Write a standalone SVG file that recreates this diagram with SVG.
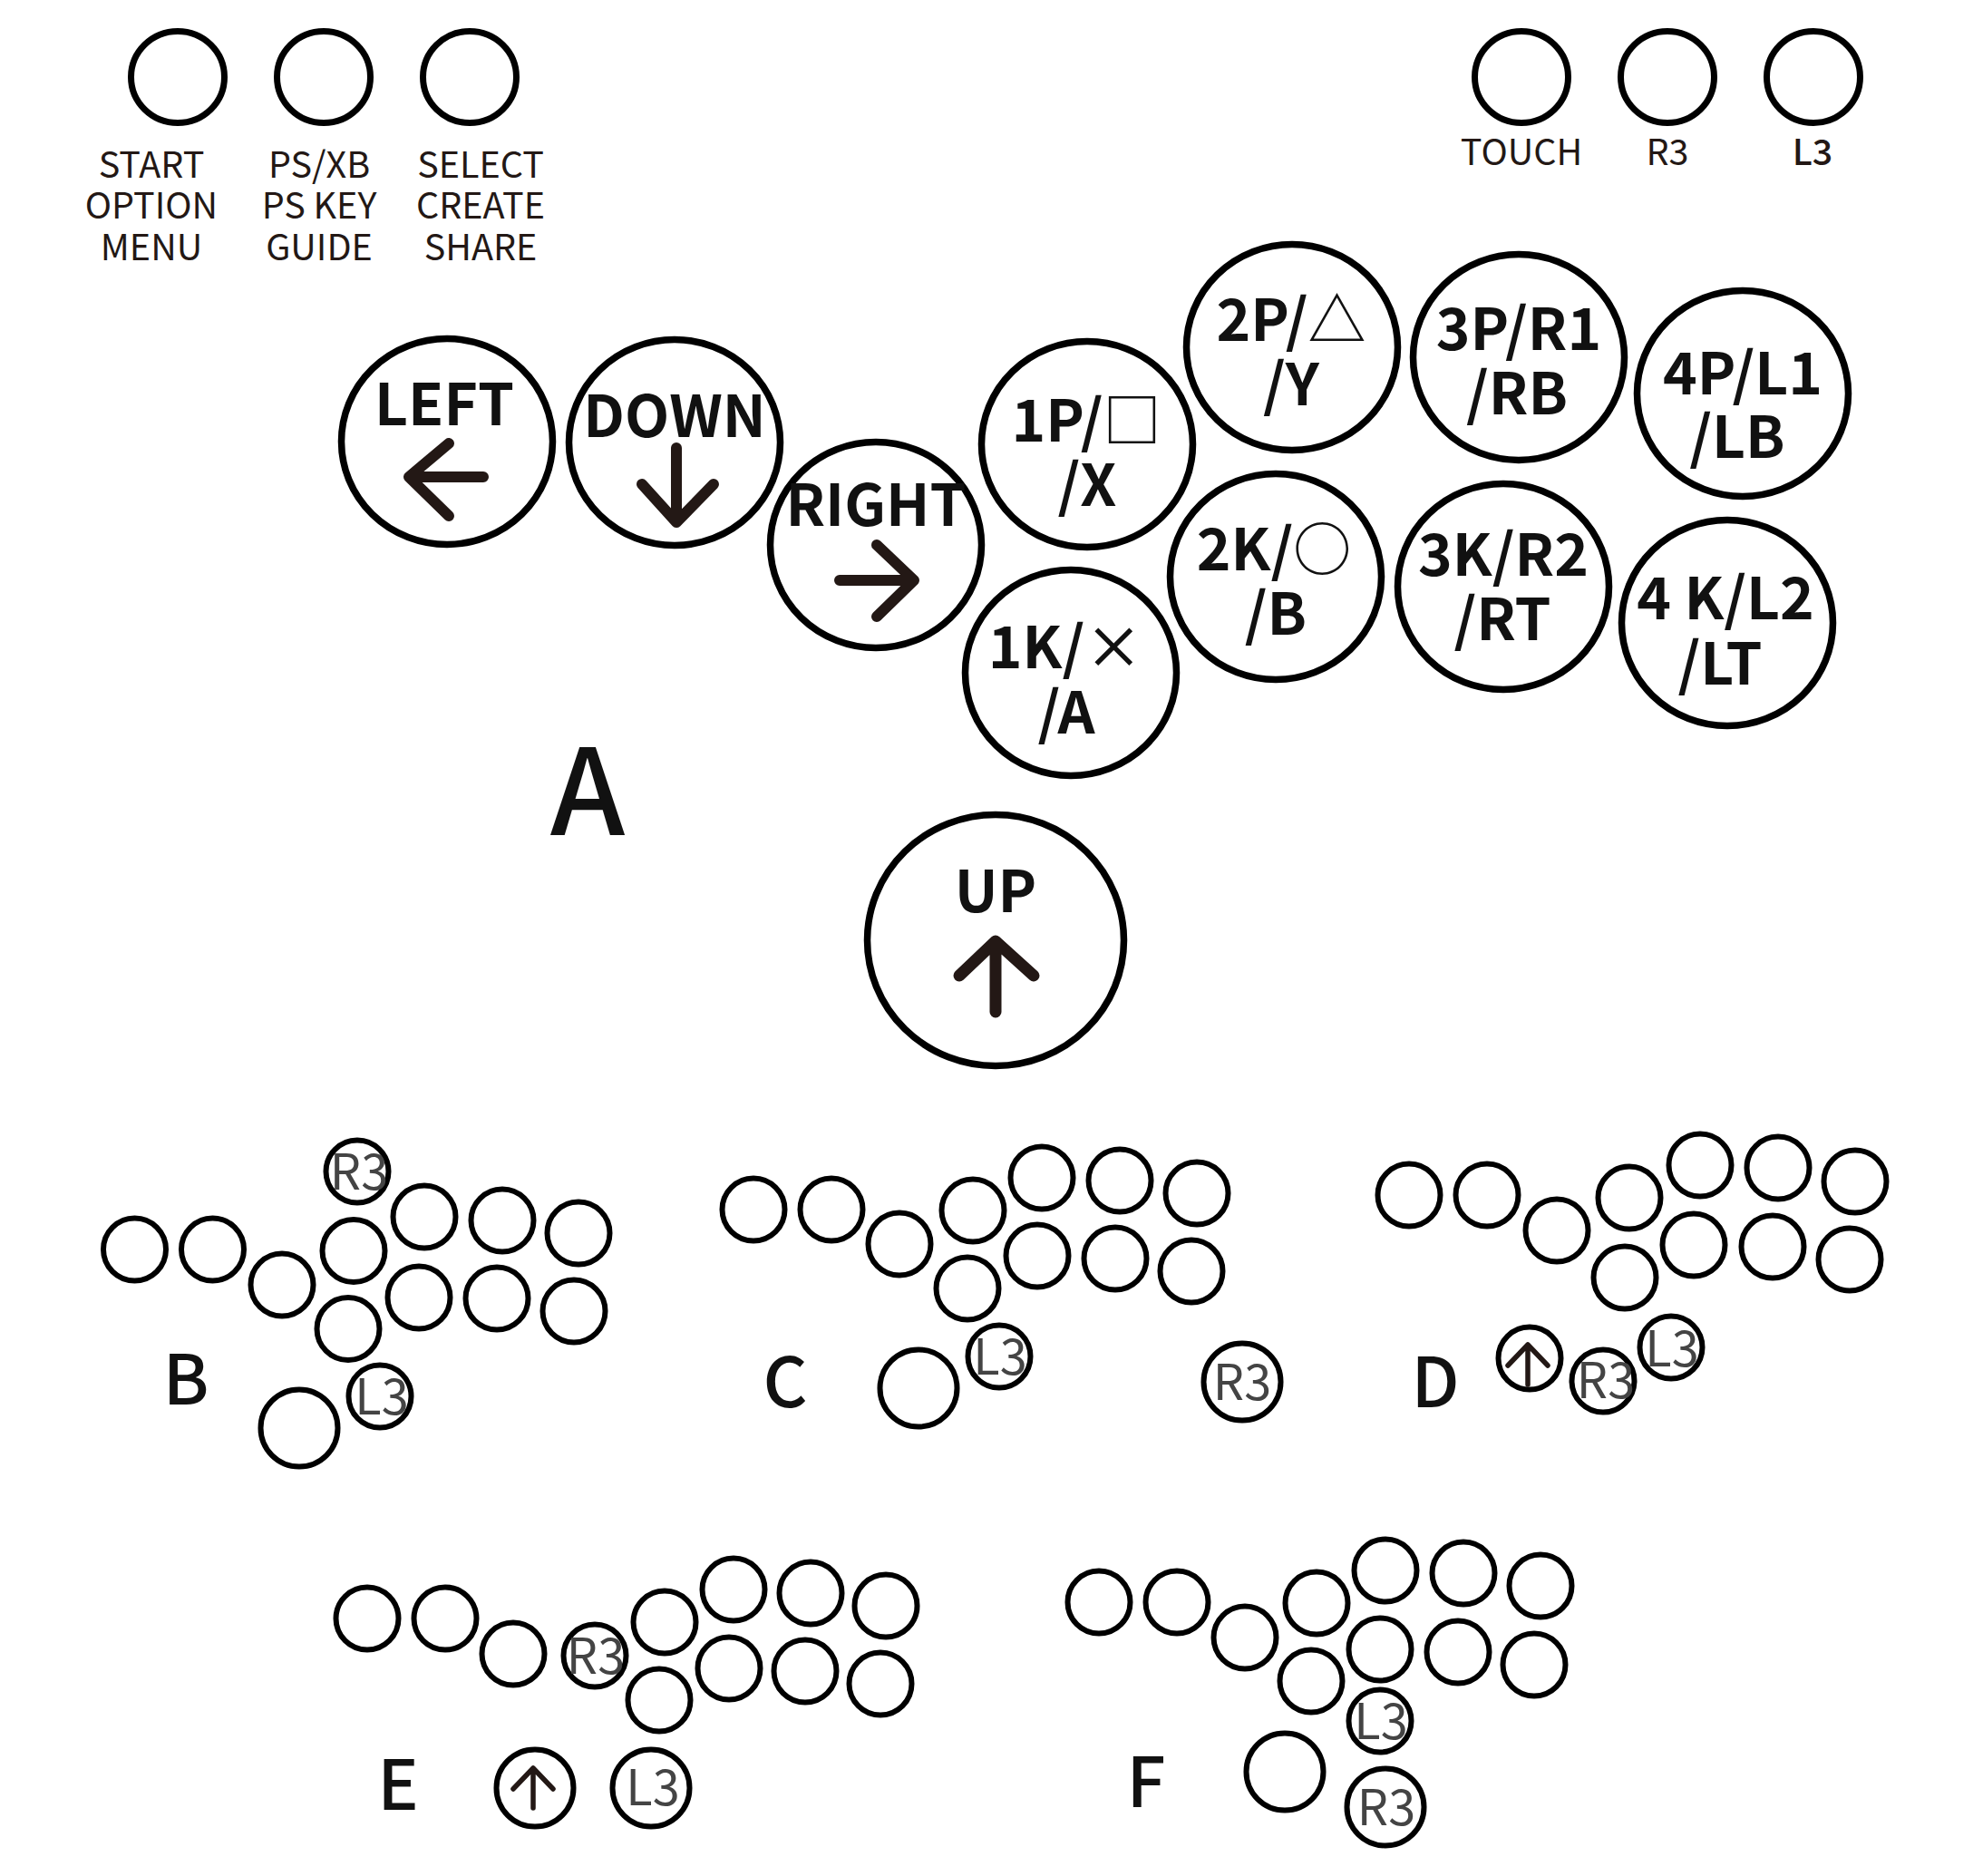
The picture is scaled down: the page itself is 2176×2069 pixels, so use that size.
<svg xmlns="http://www.w3.org/2000/svg" width="2176" height="2069" viewBox="0 0 2176 2069">
<style>
text{font-family:"Noto Sans CJK JP","Noto Sans",sans-serif;text-anchor:middle;fill:#231815}
circle,ellipse{fill:none;stroke:#000}
.t{stroke-width:7}.b{stroke-width:7.500}.u{stroke-width:7.500}.s{stroke-width:6}.m{stroke-width:6}
.lab{font-size:39.500px}
.big{font-size:64px;font-weight:700;fill:#111}
.sym{font-weight:500}
.let{font-size:76px;font-weight:500;fill:#111}
.in{font-size:54px;font-weight:400;fill:#444}
.ar{fill:none;stroke:#231815;stroke-linecap:round;stroke-linejoin:round}
</style>
<defs>
<g id="mini"><path class="ar" stroke-width="5.500" d="M0 22V-22M-22 1L0-22L22 1"/></g>
</defs>
<g id="start"><ellipse class="t" cx="196" cy="85" rx="51.500" ry="50.500"/><text class="lab" x="167" y="196">START</text><text class="lab" x="167" y="241">OPTION</text><text class="lab" x="167" y="287">MENU</text></g>
<g id="ps"><ellipse class="t" cx="357" cy="85" rx="51.500" ry="50.500"/><text class="lab" x="352" y="196">PS/XB</text><text class="lab" x="352" y="241">PS KEY</text><text class="lab" x="352" y="287">GUIDE</text></g>
<g id="select"><ellipse class="t" cx="518" cy="85" rx="51.500" ry="50.500"/><text class="lab" x="530" y="196">SELECT</text><text class="lab" x="530" y="241">CREATE</text><text class="lab" x="530" y="287">SHARE</text></g>
<g id="touch"><ellipse class="t" cx="1678" cy="85" rx="51.500" ry="50.500"/><text class="lab" x="1678" y="182">TOUCH</text></g>
<g id="r3"><ellipse class="t" cx="1839" cy="85" rx="51.500" ry="50.500"/><text class="lab" x="1839" y="182">R3</text></g>
<g id="l3"><ellipse class="t" cx="2000" cy="85" rx="51.500" ry="50.500"/><text class="lab" x="1999" y="182" font-weight="500">L3</text></g>

<g id="left"><ellipse class="b" cx="493" cy="487" rx="116.500" ry="113.500"/><text class="big" x="490" y="469">LEFT</text><path class="ar" stroke-width="12" d="M533 526H451M495 489L451 526L495 569"/></g>
<g id="down"><ellipse class="b" cx="744" cy="488" rx="116.500" ry="113.500"/><text class="big" x="744" y="482">DOWN</text><path class="ar" stroke-width="12" d="M746 494V576M708 534L746 576L787 534"/></g>
<g id="right"><ellipse class="b" cx="966" cy="601" rx="116.500" ry="113.500"/><text class="big" x="966" y="580">RIGHT</text><path class="ar" stroke-width="12" d="M926 640H1008M967 601L1008 640L967 680"/></g>
<g id="p1"><ellipse class="b" cx="1199" cy="490" rx="116.500" ry="113.500"/><text class="big" x="1198" y="487">1P/<tspan class="sym">□</tspan></text><text class="big" x="1199" y="558">/X</text></g>
<g id="k1"><ellipse class="b" cx="1181" cy="742" rx="116.500" ry="113.500"/><text class="big" x="1175" y="737">1K/<tspan class="sym">×</tspan></text><text class="big" x="1176" y="809">/A</text></g>
<g id="p2"><ellipse class="b" cx="1425" cy="383" rx="116.500" ry="113.500"/><text class="big" x="1424" y="376">2P/<tspan class="sym">△</tspan></text><text class="big" x="1424" y="447">/Y</text></g>
<g id="k2"><ellipse class="b" cx="1407" cy="636" rx="116.500" ry="113.500"/><text class="big" x="1405" y="629">2K/<tspan class="sym">○</tspan></text><text class="big" x="1407" y="700">/B</text></g>
<g id="p3"><ellipse class="b" cx="1675" cy="394" rx="116.500" ry="113.500"/><text class="big" x="1675" y="386">3P/R1</text><text class="big" x="1673" y="457">/RB</text></g>
<g id="k3"><ellipse class="b" cx="1658" cy="647" rx="116.500" ry="113.500"/><text class="big" x="1658" y="635">3K/R2</text><text class="big" x="1657" y="706">/RT</text></g>
<g id="p4"><ellipse class="b" cx="1922" cy="434" rx="116.500" ry="113.500"/><text class="big" x="1922" y="435">4P/L1</text><text class="big" x="1916" y="505">/LB</text></g>
<g id="k4"><ellipse class="b" cx="1905" cy="687" rx="116.500" ry="113.500"/><text class="big" x="1903" y="683">4 K/L2</text><text class="big" x="1897" y="755">/LT</text></g>
<g id="labelA"><text x="648" y="921" font-size="132" font-weight="500" style="fill:#111">A</text></g>
<g id="up"><ellipse class="u" cx="1098" cy="1037" rx="141.500" ry="138.500"/><text class="big" x="1098" y="1006">UP</text><path class="ar" stroke-width="13" d="M1098 1116V1040M1058 1076L1098 1038L1140 1076"/></g>

<g id="diagramB"><text class="let" x="205" y="1549">B</text>
<g id="b1"><circle class="s" cx="148.500" cy="1378" r="34.500"/></g><g id="b2"><circle class="s" cx="234.500" cy="1378" r="34.500"/></g><g id="b3"><circle class="s" cx="311" cy="1417" r="34.500"/></g><g id="b4"><circle class="s" cx="390" cy="1379.500" r="34.500"/></g><g id="b5"><circle class="s" cx="468" cy="1342" r="34.500"/></g><g id="b6"><circle class="s" cx="554" cy="1346" r="34.500"/></g><g id="b7"><circle class="s" cx="638" cy="1360" r="34.500"/></g><g id="b8"><circle class="s" cx="384" cy="1465.500" r="34.500"/></g><g id="b9"><circle class="s" cx="462" cy="1431" r="34.500"/></g><g id="b10"><circle class="s" cx="548" cy="1432" r="34.500"/></g><g id="b11"><circle class="s" cx="633" cy="1446" r="34.500"/></g>
<g id="bUp"><circle class="m" cx="330" cy="1575" r="42.500"/></g>
<g id="bL3"><circle class="s" cx="419" cy="1540" r="34.500"/><text class="in" x="421" y="1560">L3</text></g>
<g id="bR3"><circle class="s" cx="394" cy="1292" r="34.500"/><text class="in" x="396" y="1312">R3</text></g></g>

<g id="diagramC"><text class="let" x="866" y="1552">C</text>
<g id="c1"><circle class="s" cx="831" cy="1334" r="34.500"/></g><g id="c2"><circle class="s" cx="917" cy="1334" r="34.500"/></g><g id="c3"><circle class="s" cx="992" cy="1372" r="34.500"/></g><g id="c4"><circle class="s" cx="1073" cy="1335" r="34.500"/></g><g id="c5"><circle class="s" cx="1149" cy="1299" r="34.500"/></g><g id="c6"><circle class="s" cx="1235" cy="1302" r="34.500"/></g><g id="c7"><circle class="s" cx="1320" cy="1316" r="34.500"/></g><g id="c8"><circle class="s" cx="1067" cy="1421" r="34.500"/></g><g id="c9"><circle class="s" cx="1144" cy="1385" r="34.500"/></g><g id="c10"><circle class="s" cx="1230" cy="1388" r="34.500"/></g><g id="c11"><circle class="s" cx="1314" cy="1402" r="34.500"/></g>
<g id="cUp"><circle class="m" cx="1013" cy="1531" r="42.500"/></g>
<g id="cL3"><circle class="s" cx="1102" cy="1496" r="34.500"/><text class="in" x="1103" y="1516">L3</text></g>
<g id="cR3"><circle class="m" cx="1370" cy="1524" r="42.500"/><text class="in" x="1370" y="1544">R3</text></g></g>

<g id="diagramD"><text class="let" x="1583" y="1552">D</text>
<g id="d1"><circle class="s" cx="1554" cy="1318" r="34.500"/></g><g id="d2"><circle class="s" cx="1640" cy="1318" r="34.500"/></g><g id="d3"><circle class="s" cx="1717" cy="1357" r="34.500"/></g><g id="d4"><circle class="s" cx="1797" cy="1321" r="34.500"/></g><g id="d5"><circle class="s" cx="1875" cy="1285" r="34.500"/></g><g id="d6"><circle class="s" cx="1961" cy="1288" r="34.500"/></g><g id="d7"><circle class="s" cx="2046" cy="1303" r="34.500"/></g><g id="d8"><circle class="s" cx="1792" cy="1409" r="34.500"/></g><g id="d9"><circle class="s" cx="1868" cy="1373" r="34.500"/></g><g id="d10"><circle class="s" cx="1955" cy="1375" r="34.500"/></g><g id="d11"><circle class="s" cx="2040" cy="1389" r="34.500"/></g>
<g id="dUp"><circle class="s" cx="1687" cy="1498" r="34.500"/><use href="#mini" x="1685" y="1505"/></g>
<g id="dR3"><circle class="s" cx="1768" cy="1523" r="34.500"/><text class="in" x="1771" y="1542">R3</text></g>
<g id="dL3"><circle class="s" cx="1843" cy="1486" r="34.500"/><text class="in" x="1844" y="1507">L3</text></g></g>

<g id="diagramE"><text class="let" x="439" y="1996">E</text>
<g id="e1"><circle class="s" cx="405" cy="1785" r="34.500"/></g><g id="e2"><circle class="s" cx="491" cy="1785" r="34.500"/></g><g id="e3"><circle class="s" cx="566" cy="1824" r="34.500"/></g><g id="e4"><circle class="s" cx="733" cy="1789" r="34.500"/></g><g id="e5"><circle class="s" cx="809" cy="1753" r="34.500"/></g><g id="e6"><circle class="s" cx="894" cy="1757" r="34.500"/></g><g id="e7"><circle class="s" cx="977" cy="1771" r="34.500"/></g><g id="e8"><circle class="s" cx="727" cy="1875" r="34.500"/></g><g id="e9"><circle class="s" cx="804" cy="1840" r="34.500"/></g><g id="e10"><circle class="s" cx="888" cy="1843" r="34.500"/></g><g id="e11"><circle class="s" cx="971" cy="1857" r="34.500"/></g>
<g id="eR3"><circle class="s" cx="656" cy="1826" r="34.500"/><text class="in" x="657" y="1846">R3</text></g>
<g id="eUp"><circle class="m" cx="590" cy="1972" r="42.500"/><use href="#mini" x="588" y="1972"/></g>
<g id="eL3"><circle class="m" cx="718" cy="1972" r="42.500"/><text class="in" x="720" y="1991">L3</text></g></g>

<g id="diagramF"><text class="let" x="1264" y="1993">F</text>
<g id="f1"><circle class="s" cx="1212" cy="1767" r="34.500"/></g><g id="f2"><circle class="s" cx="1298" cy="1767" r="34.500"/></g><g id="f3"><circle class="s" cx="1373" cy="1806" r="34.500"/></g><g id="f4"><circle class="s" cx="1452" cy="1768" r="34.500"/></g><g id="f5"><circle class="s" cx="1528" cy="1732" r="34.500"/></g><g id="f6"><circle class="s" cx="1614" cy="1735" r="34.500"/></g><g id="f7"><circle class="s" cx="1699" cy="1749" r="34.500"/></g><g id="f8"><circle class="s" cx="1446" cy="1854" r="34.500"/></g><g id="f9"><circle class="s" cx="1522" cy="1819" r="34.500"/></g><g id="f10"><circle class="s" cx="1608" cy="1822" r="34.500"/></g><g id="f11"><circle class="s" cx="1692" cy="1836" r="34.500"/></g>
<g id="fL3"><circle class="s" cx="1522" cy="1898" r="34.500"/><text class="in" x="1523" y="1918">L3</text></g>
<g id="fUp"><circle class="m" cx="1417" cy="1954" r="42.500"/></g>
<g id="fR3"><circle class="m" cx="1528" cy="1993" r="42.500"/><text class="in" x="1529" y="2013">R3</text></g></g>
</svg>
